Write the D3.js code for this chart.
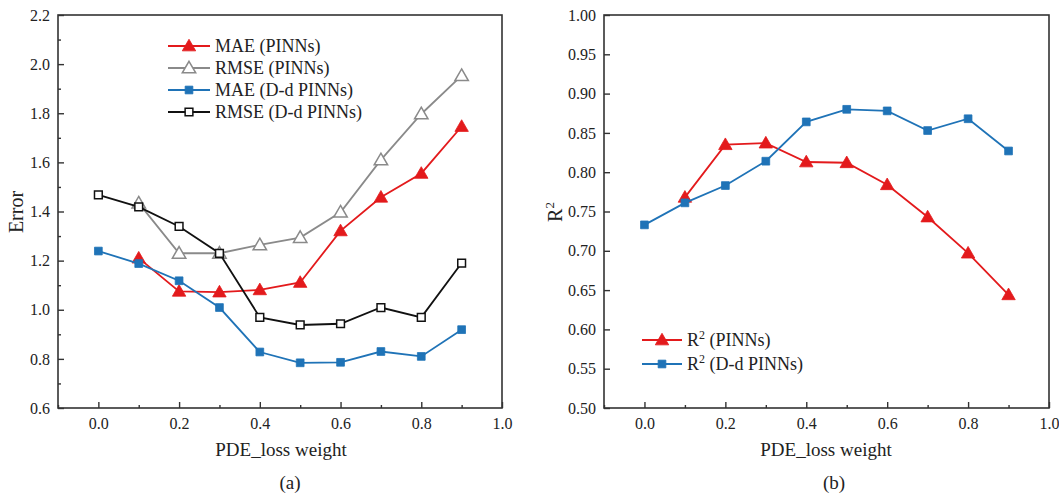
<!DOCTYPE html>
<html><head><meta charset="utf-8">
<script src="https://cdn.jsdelivr.net/npm/d3@7"></script>
<style>
body{margin:0;background:#fff;}
svg{display:block;}
</style></head>
<body>
<svg id="chart" width="1059" height="494"></svg>
<script>
// ---------- data ----------
const weights = [0.0,0.1,0.2,0.3,0.4,0.5,0.6,0.7,0.8,0.9];
const maePINNs   = [null,1.21,1.075,1.072,1.081,1.111,1.321,1.458,1.555,1.746];
const rmsePINNs  = [null,1.434,1.23,1.23,1.264,1.294,1.397,1.61,1.797,1.953];
const maeDd      = [1.239,1.188,1.118,1.009,0.828,0.784,0.786,0.830,0.810,0.919];
const rmseDd     = [1.468,1.419,1.339,1.23,0.969,0.938,0.943,1.009,0.969,1.19];
const r2PINNs    = [null,0.768,0.835,0.837,0.813,0.812,0.784,0.743,0.697,0.644];
const r2Dd       = [0.733,0.761,0.783,0.814,0.864,0.880,0.878,0.853,0.868,0.827];
const xTicks     = [0.0,0.2,0.4,0.6,0.8,1.0];
const xMinor     = [-0.1,0.1,0.3,0.5,0.7,0.9];
const errTicks   = [0.6,0.8,1.0,1.2,1.4,1.6,1.8,2.0,2.2];
const errMinor   = [0.7,0.9,1.1,1.3,1.5,1.7,1.9,2.1];
const r2Ticks    = [0.50,0.55,0.60,0.65,0.70,0.75,0.80,0.85,0.90,0.95,1.00];

const FONT = '"Liberation Serif","Times New Roman","DejaVu Serif",serif';
const RED="#e31a1c", GRAY="#8a8a8a", BLUE="#1f73b7", BLACK="#111";
const svg = d3.select("#chart").attr("font-family",FONT);

function txt(sel){ return sel.attr("font-family",FONT).attr("fill","#222"); }

function panel(opts){
  const g = svg.append("g");
  const x = d3.scaleLinear().domain([-0.1,1.0]).range([opts.x0,opts.x1]);
  const y = d3.scaleLinear().domain(opts.yDomain).range([opts.y1,opts.y0]);
  const ax = g.append("g").attr("transform",`translate(0,${opts.y1})`)
    .call(d3.axisBottom(x).tickValues(xTicks).tickFormat(d3.format(".1f")).tickSizeInner(-6).tickSizeOuter(0).tickPadding(10));
  const axm = g.append("g").attr("transform",`translate(0,${opts.y1})`)
    .call(d3.axisBottom(x).tickValues(xMinor).tickFormat("").tickSizeInner(-3).tickSizeOuter(0));
  const ay = g.append("g").attr("transform",`translate(${opts.x0},0)`)
    .call(d3.axisLeft(y).tickValues(opts.yTicks).tickFormat(d3.format(opts.fmt)).tickSizeInner(-6).tickSizeOuter(0).tickPadding(8));
  let aym=null;
  if(opts.yMinor){
    aym = g.append("g").attr("transform",`translate(${opts.x0},0)`)
      .call(d3.axisLeft(y).tickValues(opts.yMinor).tickFormat("").tickSizeInner(-3).tickSizeOuter(0));
  }
  [ax,axm,ay,aym].forEach(a=>{ if(!a) return;
    a.attr("font-family",FONT);
    a.select(".domain").remove();
    a.selectAll("line").attr("stroke","#333").attr("stroke-width",1.4);
    a.selectAll("text").attr("font-size",16).attr("font-family",FONT).attr("fill","#222");
  });
  g.append("rect").attr("x",opts.x0).attr("y",opts.y0)
    .attr("width",opts.x1-opts.x0).attr("height",opts.y1-opts.y0)
    .attr("fill","none").attr("stroke","#333").attr("stroke-width",1.6);
  return {g,x,y};
}

function symPath(shape){
  return d3.symbol().type(shape==="tri"?d3.symbolTriangle:d3.symbolSquare).size(shape==="tri"?78:60);
}

function series(p, vals, color, shape, filled){
  const pts = weights.map((w,i)=>({w,v:vals[i]})).filter(d=>d.v!==null);
  p.g.append("path").datum(pts)
    .attr("fill","none").attr("stroke",color).attr("stroke-width",1.8)
    .attr("d",d3.line().x(d=>p.x(d.w)).y(d=>p.y(d.v)));
  p.g.selectAll(null).data(pts).join("path")
    .attr("transform",d=>`translate(${p.x(d.w)},${p.y(d.v)+(shape==="tri"?1:0)})`)
    .attr("d",symPath(shape))
    .attr("fill",filled?color:"#fff").attr("stroke",color).attr("stroke-width",filled?0.8:1.5);
}

function legendItem(x0,x1,y,color,shape,filled,label,sup){
  svg.append("line").attr("x1",x0).attr("x2",x1).attr("y1",y).attr("y2",y)
    .attr("stroke",color).attr("stroke-width",1.8);
  svg.append("path").attr("transform",`translate(${(x0+x1)/2},${y+(shape==="tri"?1:0)})`).attr("d",symPath(shape))
    .attr("fill",filled?color:"#fff").attr("stroke",color).attr("stroke-width",filled?0.8:1.5);
  const t = txt(svg.append("text")).attr("x",x1+5).attr("y",y+6).attr("font-size",18);
  if(sup){
    t.append("tspan").text("R");
    t.append("tspan").text("2").attr("dy",-7).attr("font-size",12);
    t.append("tspan").text(label).attr("dy",7);
  } else t.text(label);
}

// ---------- panel (a) ----------
const pa = panel({x0:58,x1:502,y0:15,y1:408,yDomain:[0.6,2.2],yTicks:errTicks,yMinor:errMinor,fmt:".1f"});
series(pa, rmsePINNs, GRAY, "tri", false);
series(pa, maePINNs, RED, "tri", true);
series(pa, rmseDd, BLACK, "sq", false);
series(pa, maeDd, BLUE, "sq", true);
legendItem(168,210,46,RED,"tri",true,"MAE (PINNs)");
legendItem(168,210,68,GRAY,"tri",false,"RMSE (PINNs)");
legendItem(168,210,90,BLUE,"sq",true,"MAE (D-d PINNs)");
legendItem(168,210,112,BLACK,"sq",false,"RMSE (D-d PINNs)");
txt(svg.append("text")).attr("transform","translate(23,212) rotate(-90)").attr("text-anchor","middle")
  .attr("font-size",20).text("Error");
txt(svg.append("text")).attr("x",281).attr("y",456).attr("text-anchor","middle").attr("font-size",19).text("PDE_loss weight");
txt(svg.append("text")).attr("x",290).attr("y",489).attr("text-anchor","middle").attr("font-size",19).text("(a)");

// ---------- panel (b) ----------
const pb = panel({x0:604,x1:1049,y0:15,y1:408,yDomain:[0.5,1.0],yTicks:r2Ticks,yMinor:null,fmt:".2f"});
series(pb, r2PINNs, RED, "tri", true);
series(pb, r2Dd, BLUE, "sq", true);
legendItem(642,682,340,RED,"tri",true," (PINNs)",true);
legendItem(642,682,364,BLUE,"sq",true," (D-d PINNs)",true);
const yl = txt(svg.append("text")).attr("transform","translate(562,212) rotate(-90)").attr("text-anchor","middle").attr("font-size",20);
yl.append("tspan").text("R");
yl.append("tspan").text("2").attr("dy",-8).attr("font-size",13);
txt(svg.append("text")).attr("x",826).attr("y",456).attr("text-anchor","middle").attr("font-size",19).text("PDE_loss weight");
txt(svg.append("text")).attr("x",834).attr("y",489).attr("text-anchor","middle").attr("font-size",19).text("(b)");
</script>
</body></html>
